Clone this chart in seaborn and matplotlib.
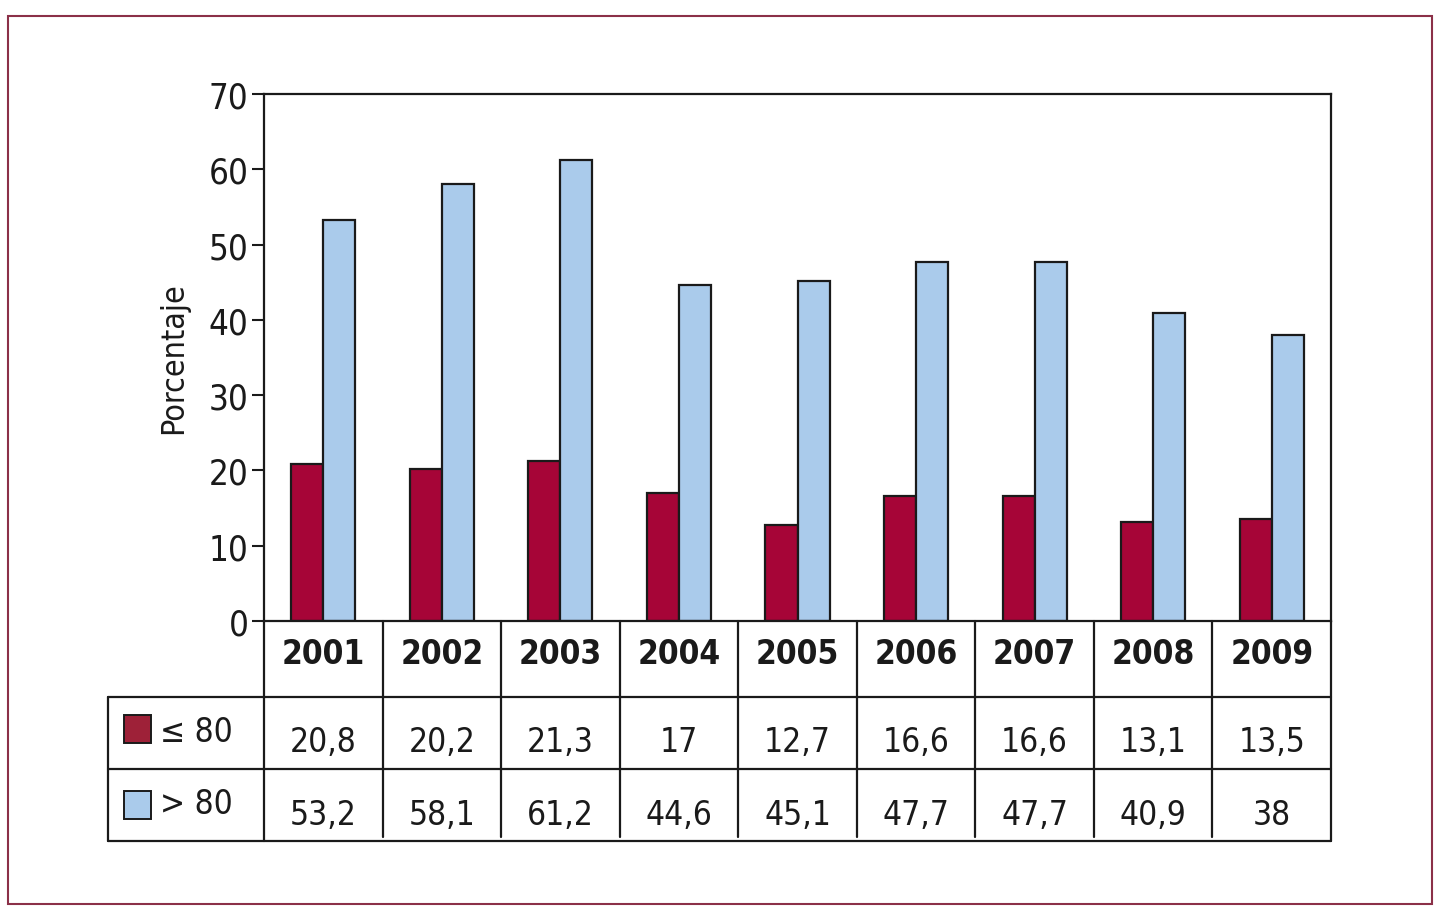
import pandas as pd
import matplotlib.pyplot as plt
import seaborn as sns
from matplotlib.patches import Rectangle

years = ["2001", "2002", "2003", "2004", "2005", "2006", "2007", "2008", "2009"]
le80 = [20.8, 20.2, 21.3, 17, 12.7, 16.6, 16.6, 13.1, 13.5]
gt80 = [53.2, 58.1, 61.2, 44.6, 45.1, 47.7, 47.7, 40.9, 38]
groups = ["\u2264 80", "> 80"]

red = "#a60537"
blue = "#aacbeb"
ink = "#1a1a1a"

data = pd.DataFrame({
    "year": years * 2,
    "group": [groups[0]] * len(years) + [groups[1]] * len(years),
    "value": le80 + gt80,
})

sns.set_style("white")
plt.rcParams["font.family"] = ["DejaVu Sans"]
plt.rcParams["font.stretch"] = "condensed"

fig = plt.figure(figsize=(14.5, 9.2), dpi=100)
ax = fig.add_axes([264 / 1450, 1 - 622 / 920, 1067 / 1450, 527 / 920])

sns.barplot(data=data, x="year", y="value", hue="group", palette=[red, blue],
            saturation=1, width=0.54, edgecolor=ink, linewidth=1.6,
            legend=False, ax=ax)

ax.set_xlim(-0.5, 8.5)
ax.set_ylim(0, 70)
ax.set_yticks(range(0, 71, 10))
ax.set_xticks([])
ax.set_xlabel("")
ax.set_ylabel("Porcentaje", fontsize=23, color=ink, labelpad=14)
ax.tick_params(axis="y", direction="out", length=9, width=1.5, labelsize=25,
               pad=2, colors=ink, left=True)
for s in ax.spines.values():
    s.set_color(ink)
    s.set_linewidth(1.6)

# table under the bars: x in data units, y in axes fraction
tr = ax.get_xaxis_transform()
left = -0.5 - 156 / 118.56
r1, r2, r3 = -0.1442, -0.2808, -0.4175
kw = dict(transform=tr, clip_on=False, color=ink, lw=1.6)
for y in (r1, r2, r3):
    ax.plot([left, 8.5], [y, y], **kw)
ax.plot([left, left], [r1, r3], **kw)
ax.plot([-0.5, -0.5], [0, r3], **kw)
ax.plot([8.5, 8.5], [0, r3], **kw)
for k in range(8):
    ax.plot([k + 0.5, k + 0.5], [0, r3 + 0.008], **kw)

for i, yr in enumerate(years):
    ax.text(i, -0.0626, yr, transform=tr, ha="center", va="center",
            fontsize=24, fontweight="bold", color=ink)

def fmt(v):
    return f"{v:g}".replace(".", ",")

for i in range(len(years)):
    ax.text(i, -0.2278, fmt(le80[i]), transform=tr, ha="center", va="center",
            fontsize=24, color=ink)
    ax.text(i, -0.3663, fmt(gt80[i]), transform=tr, ha="center", va="center",
            fontsize=24, color=ink)

sq_x = -0.5 - 140 / 118.56
for (ytop, col, lab, ylab) in [(-0.2315, "#9e2138", groups[0], -0.2106),
                               (-0.3757, blue, groups[1], -0.3472)]:
    ax.add_patch(Rectangle((sq_x, ytop), 27 / 118.56, 0.0531, transform=tr,
                           facecolor=col, edgecolor=ink, lw=1.4, clip_on=False))
    ax.text(-0.5 - 104 / 118.56, ylab, lab, transform=tr, ha="left",
            va="center", fontsize=24, color=ink)

fig.add_artist(Rectangle((8 / 1450, 1 - 905 / 920), 1424 / 1450, 888 / 920,
                         transform=fig.transFigure, fill=False,
                         edgecolor="#8b3048", lw=1.5))

fig.savefig("out.png", dpi=100)
